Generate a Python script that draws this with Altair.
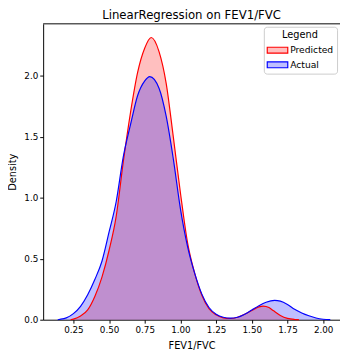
import altair as alt
import pandas as pd

# ---- data ----
series_names = ["Predicted", "Actual"]
series_colors = ["red", "blue"]
legend_fills = ["#ffbfbf", "#bfbfff"]   # the 0.25-alpha patches as they appear in the legend

pred_x = [0.23, 0.25, 0.30, 0.35, 0.40, 0.45, 0.50, 0.55, 0.60, 0.65, 0.70, 0.75,
          0.795, 0.85, 0.90, 0.95, 1.00, 1.05, 1.10, 1.15, 1.20, 1.25, 1.30, 1.35,
          1.40, 1.45, 1.50, 1.55, 1.58, 1.62, 1.65, 1.70, 1.75, 1.80, 1.83]
pred_y = [0.0, 0.005, 0.03, 0.08, 0.19, 0.35, 0.57, 0.85, 1.30, 1.70, 2.03, 2.23,
          2.316, 2.20, 1.94, 1.50, 1.04, 0.63, 0.38, 0.20, 0.09, 0.04, 0.015, 0.01,
          0.02, 0.045, 0.075, 0.105, 0.112, 0.100, 0.075, 0.035, 0.011, 0.002, 0.0]

act_x = [0.14, 0.15, 0.20, 0.25, 0.30, 0.35, 0.40, 0.45, 0.50, 0.55, 0.60, 0.65,
         0.70, 0.75, 0.785, 0.85, 0.90, 0.95, 1.00, 1.05, 1.10, 1.15, 1.20, 1.25,
         1.30, 1.35, 1.40, 1.45, 1.50, 1.55, 1.60, 1.66, 1.70, 1.75, 1.80, 1.85,
         1.90, 1.95, 2.00, 2.05]
act_y = [0.0, 0.002, 0.015, 0.05, 0.11, 0.205, 0.33, 0.48, 0.72, 0.97, 1.34, 1.60,
         1.84, 1.96, 1.995, 1.90, 1.67, 1.32, 0.91, 0.60, 0.38, 0.21, 0.10, 0.045,
         0.02, 0.013, 0.02, 0.045, 0.08, 0.115, 0.143, 0.158, 0.152, 0.125, 0.085, 0.055,
         0.032, 0.014, 0.004, 0.0]

x_ticks = [0.25, 0.50, 0.75, 1.00, 1.25, 1.50, 1.75, 2.00]
y_ticks = [0.0, 0.5, 1.0, 1.5, 2.0]

df = pd.concat([
    pd.DataFrame({"x": pred_x, "density": pred_y, "series": "Predicted"}),
    pd.DataFrame({"x": act_x, "density": act_y, "series": "Actual"}),
], ignore_index=True)

W, H = 304, 303
FONT = "DejaVu Sans"

xenc = alt.X("x:Q",
             scale=alt.Scale(domain=[0.038, 2.118], nice=False, zero=False),
             axis=alt.Axis(values=x_ticks, format=".2f", title="FEV1/FVC", grid=False,
                           labelPadding=3, titlePadding=6))
yenc = alt.Y("density:Q", stack=None,
             scale=alt.Scale(domain=[0, 2.428], nice=False, zero=False),
             axis=alt.Axis(values=y_ticks, format=".1f", title="Density", grid=False,
                           titlePadding=6))
cscale = alt.Scale(domain=series_names, range=series_colors)

area = alt.Chart(df).mark_area(interpolate="monotone", fillOpacity=0.25).encode(
    x=xenc, y=yenc,
    color=alt.Color("series:N", scale=cscale, legend=None),
)
line = alt.Chart(df).mark_line(interpolate="monotone", strokeWidth=1.2).encode(
    x=xenc, y=yenc,
    color=alt.Color("series:N", scale=cscale, legend=None),
)
# invisible layer that only supplies the legend: pale patch with coloured edge
leg = alt.Legend(title="Legend", orient="none", legendX=226, legendY=3)
legend_layer = alt.Chart(df).mark_area(opacity=0, interpolate="monotone").encode(
    x=xenc, y=yenc,
    fill=alt.Fill("series:N", scale=alt.Scale(domain=series_names, range=legend_fills),
                  legend=leg),
    stroke=alt.Stroke("series:N", scale=alt.Scale(domain=series_names, range=series_colors),
                      legend=leg),
)
top_spine = alt.Chart(pd.DataFrame({"a": [0]})).mark_rule(color="black", strokeWidth=1).encode(
    x=alt.value(0), x2=alt.value(W), y=alt.value(0)
)

chart = alt.layer(area, line, legend_layer, top_spine).properties(
    width=W, height=H,
    title=alt.Title("LinearRegression on FEV1/FVC", fontSize=12, font=FONT,
                    fontWeight="normal", color="black", offset=1, frame="group"),
    autosize=alt.AutoSizeParams(type="none"),
    padding={"left": 36, "top": 12, "right": 0, "bottom": 35},
).resolve_scale(fill="independent", stroke="independent").configure_view(stroke=None).configure_axis(
    labelFont=FONT, labelFontSize=9, labelColor="black",
    titleFont=FONT, titleFontSize=10, titleFontWeight="normal", titleColor="black",
    tickSize=3.5, tickColor="black", domainColor="black", labelPadding=2,
    titlePadding=4,
).configure_legend(
    fillColor="white", strokeColor="#cccccc",
    cornerRadius=3, padding=3, titleFont=FONT, titleFontSize=10,
    titleFontWeight="normal", titleColor="black", titleAnchor="middle",
    titlePadding=5,
    labelFont=FONT, labelFontSize=9.4, labelColor="black",
    symbolType="M-2.1,-0.6H2.1V0.6H-2.1Z", symbolSize=100, symbolStrokeWidth=1.2,
    symbolOpacity=1, symbolOffset=5, rowPadding=3, labelOffset=7,
)

chart.save("out.html", embed_options={"renderer": "svg", "actions": False})
